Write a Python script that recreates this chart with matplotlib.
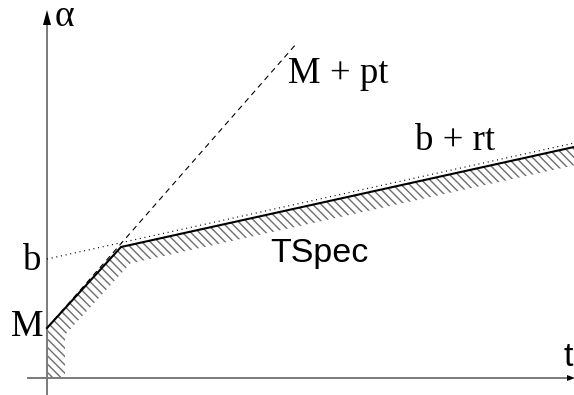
import numpy as np
import matplotlib
matplotlib.use("Agg")
import matplotlib.pyplot as plt

# Token-bucket arrival curve (TSpec) and its two affine bounds
M = 5.0          # burst height at t = 0
b = 11.9         # bucket depth
p = 1.14         # peak rate
r = 0.22         # sustained rate

# Vertices of the TSpec curve (t, alpha)
tspec_t = [0.0, 0.0, 7.4, 52.7]
tspec_a = [0.0, 5.0, 13.1, 23.1]

# Extent of the two bounding lines
peak_t = [0.0, 25.0]
sust_t = [0.0, 52.7]

serif = "Liberation Serif"
sans = "Liberation Sans"
plt.rcParams["hatch.linewidth"] = 1.0


def offset_polyline(xs, ys, d):
    """Shift a polyline by d to its right-hand side (mitred corners)."""
    pts = np.column_stack([xs, ys]).astype(float)
    segs = np.diff(pts, axis=0)
    norms = np.array([[s[1], -s[0]] / np.hypot(*s) for s in segs])
    out = [pts[0] + d * norms[0]]
    for i in range(1, len(pts) - 1):
        n = norms[i - 1] + norms[i]
        n = n / np.dot(n, norms[i])
        out.append(pts[i] + d * n)
    out.append(pts[-1] + d * norms[-1])
    return np.array(out)


fig = plt.figure(figsize=(5.74, 3.95), dpi=100)
ax = fig.add_axes([0, 0, 1, 1])
ax.set_xlim(-4.7, 52.7)
ax.set_ylim(-1.7, 37.8)
ax.axis("off")

# hatched band under the TSpec curve
inner = offset_polyline(tspec_t, tspec_a, 1.8)
poly = np.vstack([np.column_stack([tspec_t, tspec_a]), inner[::-1]])
ax.fill(poly[:, 0], poly[:, 1], facecolor="none", edgecolor="#6e6e6e",
        hatch="\\\\\\\\", linewidth=0, zorder=1)

# coordinate axes
axis_col = "#7a7a7a"
ax.plot([0, 0], [-1.7, 35.6], color=axis_col, lw=1.4, zorder=2)
ax.plot([-1.9, 52.0], [0, 0], color=axis_col, lw=1.4, zorder=2)
ax.fill([-0.4, 0.4, 0.0], [35.3, 35.3, 36.8], color="black", lw=0, zorder=3)
ax.fill([52.0, 52.0, 52.8], [0.3, -0.3, 0.0], color="black", lw=0, zorder=3)

# affine bounds
ax.plot(peak_t, [M + p * t for t in peak_t], color="black", lw=0.8,
        dashes=(5, 4), zorder=2)
ax.plot(sust_t, [b + r * t for t in sust_t], color="black", lw=0.9,
        dashes=(0.8, 3.0), zorder=2)

# TSpec curve (drawn from the burst point on)
ax.plot(tspec_t[1:], tspec_a[1:], color="black", lw=1.5, zorder=4,
        solid_joinstyle="miter")

# labels
ax.text(0.8, 35.2, "α", family=serif, fontsize=27, va="baseline", ha="left")
ax.text(-0.3, 4.2, "M", family=serif, fontsize=26.5, va="baseline", ha="right")
ax.text(-0.6, 10.8, "b", family=serif, fontsize=26.5, va="baseline", ha="right")
ax.text(24.1, 29.5, "M + pt", family=serif, fontsize=26.5, va="baseline")
ax.text(36.8, 22.8, "b + rt", family=serif, fontsize=26.5, va="baseline")
ax.text(22.3, 11.6, "TSpec", family=sans, fontsize=24.5, va="baseline")
ax.text(51.6, 1.2, "t", family=sans, fontsize=24.5, va="baseline")

fig.savefig("out.png", dpi=100)
